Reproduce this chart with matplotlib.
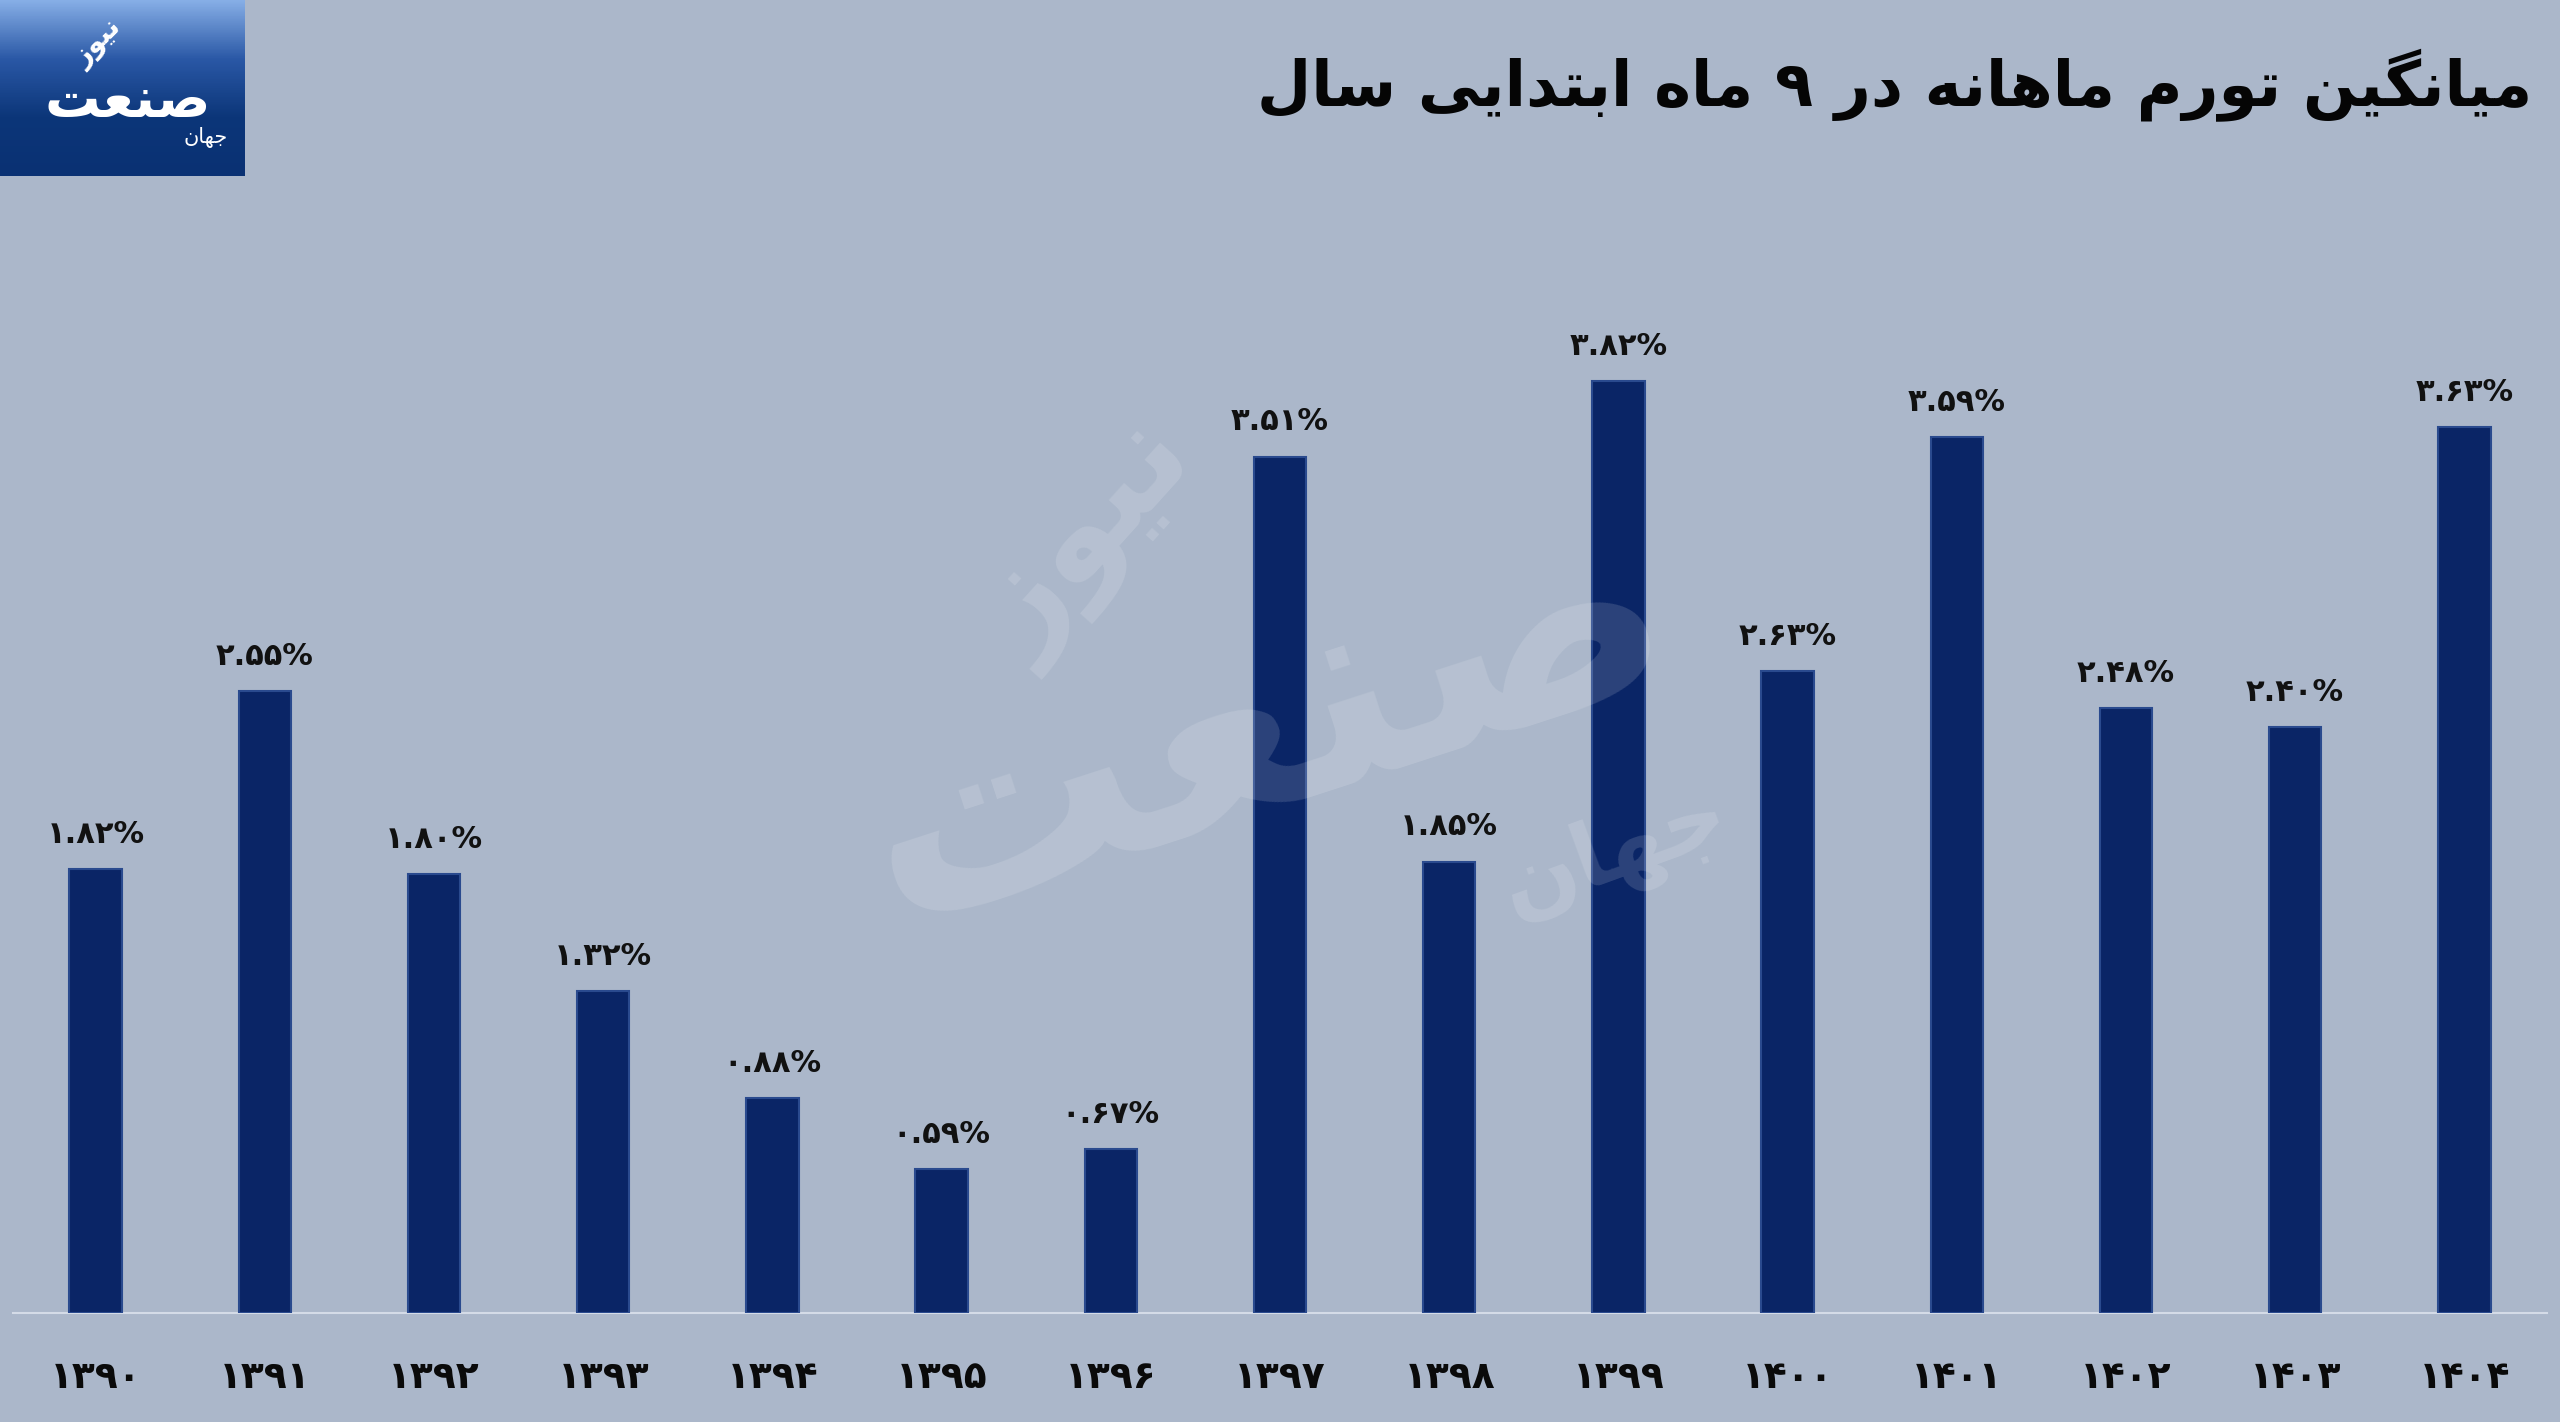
import numpy as np
import matplotlib
matplotlib.use("Agg")
import matplotlib.pyplot as plt
from matplotlib.colors import LinearSegmentedColormap

# data
years = ['۱۳۹۰', '۱۳۹۱', '۱۳۹۲', '۱۳۹۳', '۱۳۹۴', '۱۳۹۵', '۱۳۹۶', '۱۳۹۷',
         '۱۳۹۸', '۱۳۹۹', '۱۴۰۰', '۱۴۰۱', '۱۴۰۲', '۱۴۰۳', '۱۴۰۴']
values = [1.82, 2.55, 1.80, 1.32, 0.88, 0.59, 0.67, 3.51,
          1.85, 3.82, 2.63, 3.59, 2.48, 2.40, 3.63]
title_fa = 'میانگین تورم ماهانه در ۹ ماه ابتدایی سال'

# simple arabic/persian shaping (no arabic_reshaper here)
# char: (isolated, final, initial, medial); 2-tuple = joins only to the right
FORMS = {
    'ا': ('\uFE8D', '\uFE8E'), 'ب': ('\uFE8F', '\uFE90', '\uFE91', '\uFE92'),
    'ت': ('\uFE95', '\uFE96', '\uFE97', '\uFE98'), 'ج': ('\uFE9D', '\uFE9E', '\uFE9F', '\uFEA0'),
    'د': ('\uFEA9', '\uFEAA'), 'ر': ('\uFEAD', '\uFEAE'), 'ز': ('\uFEAF', '\uFEB0'),
    'س': ('\uFEB1', '\uFEB2', '\uFEB3', '\uFEB4'), 'ص': ('\uFEB9', '\uFEBA', '\uFEBB', '\uFEBC'),
    'ع': ('\uFEC9', '\uFECA', '\uFECB', '\uFECC'), 'ل': ('\uFEDD', '\uFEDE', '\uFEDF', '\uFEE0'),
    'م': ('\uFEE1', '\uFEE2', '\uFEE3', '\uFEE4'), 'ن': ('\uFEE5', '\uFEE6', '\uFEE7', '\uFEE8'),
    'ه': ('\uFEE9', '\uFEEA', '\uFEEB', '\uFEEC'), 'و': ('\uFEED', '\uFEEE'),
    'ی': ('\uFBFC', '\uFBFD', '\uFBFE', '\uFBFF'), 'گ': ('\uFB92', '\uFB93', '\uFB94', '\uFB95'),
}


def fa(text):
    out = []
    for i, ch in enumerate(text):
        if ch not in FORMS:
            out.append(ch)
            continue
        prev = text[i - 1] if i > 0 else ''
        nxt = text[i + 1] if i + 1 < len(text) else ''
        join_prev = prev in FORMS and len(FORMS[prev]) == 4
        join_next = len(FORMS[ch]) == 4 and nxt in FORMS
        f = FORMS[ch]
        if join_prev and join_next:
            out.append(f[3])
        elif join_prev:
            out.append(f[1])
        elif join_next:
            out.append(f[2])
        else:
            out.append(f[0])
    return ''.join(out)[::-1]


def fa_pct(v):
    s = '%.2f' % v
    s = s.translate(str.maketrans('0123456789', '۰۱۲۳۴۵۶۷۸۹'))
    return s + '%'


plt.rcParams['font.family'] = ['DejaVu Sans']
bg = '#abb7ca'
bar_color = '#0a2566'

fig = plt.figure(figsize=(25.6, 14.22), dpi=100, facecolor=bg)
ax = fig.add_axes([0.005, 0.0767, 0.99, 0.772])
ax.set_facecolor(bg)

# watermark (behind bars)
fig.text(0.494, 0.49, fa('صنعت'), ha='center', va='center', fontsize=200, fontweight='bold',
         color='white', alpha=0.14, rotation=18, zorder=0)
fig.text(0.425, 0.62, fa('نیوز'), ha='center', va='center', fontsize=95, fontweight='bold',
         color='white', alpha=0.14, rotation=48, zorder=0)
fig.text(0.631, 0.40, fa('جهان'), ha='center', va='center', fontsize=65, fontweight='bold',
         color='white', alpha=0.14, rotation=20, zorder=0)

x = np.arange(len(values))
ax.bar(x, values, width=0.31, color=bar_color, edgecolor='#2a4a8e', linewidth=1.5, zorder=3)
for xi, v in zip(x, values):
    ax.annotate(fa_pct(v), (xi, v), xytext=(0, 25), textcoords='offset points',
                ha='center', va='center', fontsize=22, fontweight='bold', color='#111111')

ax.set_xlim(-0.49, 14.49)
ax.set_ylim(0, 4.5)
ax.set_xticks(x)
ax.set_xticklabels(years, fontsize=27, fontweight='bold', color='#0a0a0a')
ax.tick_params(axis='x', length=0, pad=34)
ax.set_yticks([])
for s in ['left', 'right', 'top']:
    ax.spines[s].set_visible(False)
ax.spines['bottom'].set_color('#d4dbe7')
ax.spines['bottom'].set_linewidth(1.5)
ax.patch.set_alpha(0)

# title
fig.text(0.989, 0.94, fa(title_fa), ha='right', va='center', fontsize=45,
         fontweight='bold', color='#050505')

# logo box
lax = fig.add_axes([0, 1 - 176 / 1422, 245 / 2560, 176 / 1422])
cmap = LinearSegmentedColormap.from_list('logo', ['#86aee6', '#2a58a6', '#0c3679', '#0a3173'])
grad = np.linspace(0, 1, 100).reshape(-1, 1)
lax.imshow(grad, aspect='auto', cmap=cmap, extent=[0, 1, 0, 1], origin='upper')
lax.set_axis_off()
lax.text(0.52, 0.42, fa('صنعت'), ha='center', va='center', fontsize=40, fontweight='bold',
         color='white')
lax.text(0.40, 0.75, fa('نیوز'), ha='center', va='center', fontsize=20, fontweight='bold',
         color='white', rotation=45)
lax.text(0.84, 0.22, fa('جهان'), ha='center', va='center', fontsize=15, color='white')

fig.savefig('out.png', dpi=100, facecolor=bg)
